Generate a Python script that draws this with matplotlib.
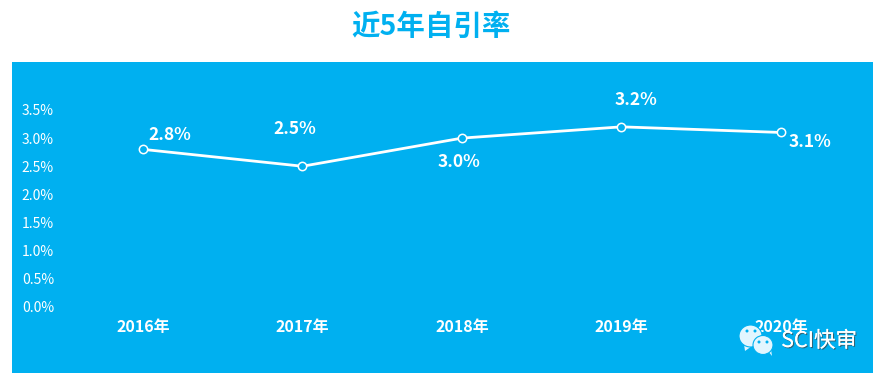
#!/usr/bin/python3

# Self-citation rate over the last 5 years, white line on a blue panel

import matplotlib
matplotlib.use('Agg')
import matplotlib.pyplot as plt
import matplotlib.patheffects as pe
from matplotlib.patches import Ellipse, Polygon

plt.rcParams['font.family'] = ['Noto Sans CJK SC', 'DejaVu Sans']

W, H = 886, 381
BLUE = '#00B0F0'

years = ['2016年', '2017年', '2018年', '2019年', '2020年']
rates = [2.8, 2.5, 3.0, 3.2, 3.1]
y_ticks = [0.0, 0.5, 1.0, 1.5, 2.0, 2.5, 3.0, 3.5]
# label offsets in pixels from each point
label_dx = [27, -8, -3, 14, 29]
label_dy = [14, 37, -24, 27, -10]


def px(x, y):
    # image pixels (top left origin) to figure fraction
    return x / W, 1 - y / H


fig = plt.figure(figsize=(W / 100, H / 100), dpi=100, facecolor='white')

# axes fill the blue panel, limits line up the data with the pixels
left, top = 12, 62
right, bottom = 873, 373
ax = fig.add_axes([left / W, 1 - bottom / H, (right - left) / W, (bottom - top) / H])
ax.set_facecolor(BLUE)
for s in ax.spines.values():
    s.set_visible(False)

x0, dx = 143, 159.5
y0, dy = 307, 56.3
ax.set_xlim((left - x0) / dx, (right - x0) / dx)
ax.set_ylim((y0 - bottom) / dy, (y0 - top) / dy)

xs = list(range(len(years)))
ax.plot(xs, rates, color='white', lw=2, marker='o', ms=6, mfc=BLUE, mec='white', mew=1.1)

for x, r, ox, oy in zip(xs, rates, label_dx, label_dy):
    ax.annotate(f'{r:.1f}%', (x, r), xytext=(ox * 0.72, oy * 0.72), textcoords='offset points',
                color='white', fontsize=12.5, fontweight='bold', ha='center', va='center')

ax.set_yticks(y_ticks)
ax.set_yticklabels([f'{v:.1f}%' for v in y_ticks], color='white', fontsize=10)
ax.tick_params(axis='y', length=0, pad=-42 * 0.72)
ax.set_xticks(xs)
ax.set_xticklabels(years, color='white', fontsize=11.5, fontweight='bold')
ax.tick_params(axis='x', length=0, pad=-54 * 0.72)

tx, ty = px(431, 27)
fig.text(tx, ty, '近5年自引率', color=BLUE, fontsize=20.5, fontweight='bold', ha='center', va='center')

# watermark
ICON = '#E2F6FF'
for cx, cy, w, h, tail in [(750.5, 336, 23, 22, [(744, 344), (745, 351), (752, 346)]),
                           (763, 345, 20, 19, [(768, 351), (772, 356), (771, 349)])]:
    fig.add_artist(Polygon([px(*p) for p in tail], closed=True, fc=ICON, ec='none', transform=fig.transFigure))
    fig.add_artist(Ellipse(px(cx, cy), w / W, h / H, fc=ICON, ec=BLUE, lw=0.8, transform=fig.transFigure))
for ex, ey in [(747, 331), (755, 331), (759, 342), (767, 342)]:
    fig.add_artist(Ellipse(px(ex, ey), 3 / W, 3 / H, fc=BLUE, ec='none', transform=fig.transFigure))

tx, ty = px(819, 341)
fig.text(tx, ty, 'SCI快审', color='white', fontsize=15.5, ha='center', va='center',
         path_effects=[pe.withSimplePatchShadow(offset=(0.8, -0.8), shadow_rgbFace='#444444', alpha=0.7), pe.Normal()])

fig.savefig('out.png', dpi=100)
